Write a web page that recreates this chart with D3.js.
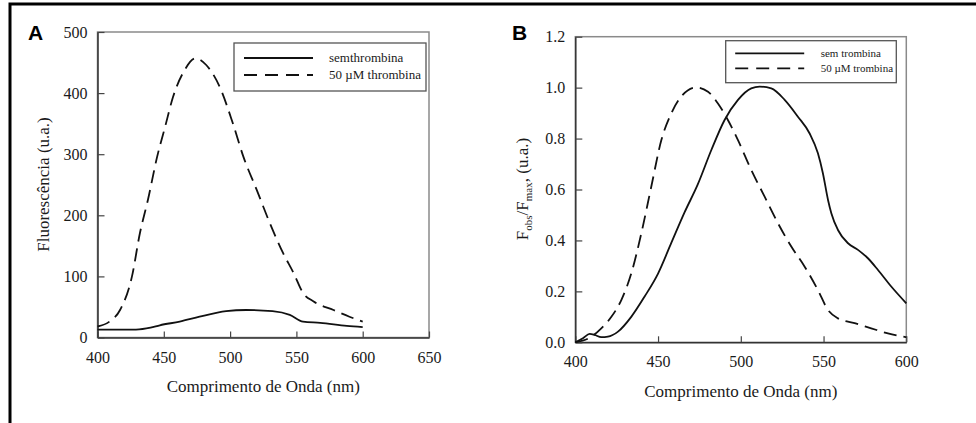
<!DOCTYPE html>
<html>
<head>
<meta charset="utf-8">
<script src="https://cdn.jsdelivr.net/npm/d3@7/dist/d3.min.js"></script>
<style>
  body { margin: 0; background: #fff; }
  svg { display: block; }
</style>
</head>
<body>
<script>
// painel A - fluorescencia absoluta
var semA_x = [400, 415, 429, 440, 447, 462, 477, 497, 512, 532, 545, 555, 568, 588, 600];
var semA_y = [13, 13, 13, 16, 20, 26, 34, 43, 45, 43, 37, 26, 24, 19, 17];
var comA_x = [400, 409, 417, 426, 432, 438, 445, 451, 457, 465, 474, 482, 492, 502, 510, 520, 530, 540, 548, 555, 563, 578, 590, 600];
var comA_y = [18, 26, 45, 100, 171, 225, 296, 345, 394, 435, 457, 446, 411, 351, 296, 242, 187, 138, 105, 73, 59, 45, 34, 26];

// painel B - normalizado
var semB_x = [400, 404.6, 408.7, 411.7, 415.7, 419.7, 425.8, 433.8, 441.9, 450, 458, 466, 474, 482.2, 490.2, 498.3, 506.3, 511.4, 518.4, 526.5, 534.5, 541.6, 546.6, 549.6, 552.7, 554.7, 558.7, 564.8, 570.8, 576.8, 582.9, 590.9, 600];
var semB_y = [0, 0.016, 0.033, 0.029, 0.02, 0.022, 0.042, 0.10, 0.18, 0.27, 0.39, 0.51, 0.62, 0.755, 0.873, 0.952, 0.997, 1.004, 0.997, 0.952, 0.886, 0.82, 0.742, 0.664, 0.559, 0.507, 0.441, 0.389, 0.363, 0.33, 0.284, 0.219, 0.153];
var comB_x = [400, 409.7, 415.7, 421.8, 427.8, 433.8, 439.9, 445.9, 452, 458, 464, 473.1, 480.2, 486.2, 492.2, 498.3, 506.3, 514.4, 522.5, 530.5, 538.6, 546.6, 552.7, 558.7, 568.8, 578.8, 588.9, 600];
var comB_y = [0, 0.022, 0.055, 0.10, 0.166, 0.27, 0.428, 0.611, 0.794, 0.899, 0.965, 1.001, 0.984, 0.938, 0.873, 0.794, 0.677, 0.572, 0.467, 0.376, 0.297, 0.205, 0.127, 0.094, 0.075, 0.055, 0.035, 0.02];

var legendA = ["semthrombina", "50 \u00b5M thrombina"];
var legendB = ["sem trombina", "50 \u00b5M trombina"];
var xTicksA = [400, 450, 500, 550, 600, 650];
var yTicksA = [0, 100, 200, 300, 400, 500];
var xTicksB = [400, 450, 500, 550, 600];
var yTicksB = [0, 0.2, 0.4, 0.6, 0.8, 1.0, 1.2];

var W = 976, H = 423;
var serif = "Liberation Serif, Times New Roman, serif";

var svg = d3.select("body").append("svg")
    .attr("width", W)
    .attr("height", H);

// moldura da figura
svg.append("rect")
   .attr("x", 10).attr("y", 4)
   .attr("width", 1200).attr("height", 1000)
   .attr("fill", "none")
   .attr("stroke", "#000")
   .attr("stroke-width", 3);

function zip(xs, ys) {
  return xs.map(function(d, i) { return [d, ys[i]]; });
}

function panel(opt) {
  var x = d3.scaleLinear().domain(opt.xdom).range([opt.left, opt.right]);
  var y = d3.scaleLinear().domain(opt.ydom).range([opt.bottom, opt.top]);

  var g = svg.append("g");

  // frame (top/right grey)
  g.append("rect")
   .attr("x", opt.left).attr("y", opt.top)
   .attr("width", opt.right - opt.left).attr("height", opt.bottom - opt.top)
   .attr("fill", "none")
   .attr("stroke", "#8a8a8a")
   .attr("stroke-width", 1.5);

  var xa = g.append("g")
    .attr("transform", "translate(0," + opt.bottom + ")")
    .call(d3.axisBottom(x).tickValues(opt.xticks).tickSizeInner(-6).tickSizeOuter(0).tickPadding(opt.xpad).tickFormat(d3.format("d")));
  var ya = g.append("g")
    .attr("transform", "translate(" + opt.left + ",0)")
    .call(d3.axisLeft(y).tickValues(opt.yticks).tickSizeInner(-7).tickSizeOuter(0).tickPadding(10).tickFormat(opt.yfmt));

  [xa, ya].forEach(function(a) {
    a.attr("font-family", serif).attr("font-size", 16);
    a.select(".domain").attr("stroke", "#333").attr("stroke-width", 1.5);
    a.selectAll(".tick line").attr("stroke", "#444").attr("stroke-width", 1.2);
    a.selectAll(".tick text")
     .attr("font-family", serif)
     .attr("font-size", "16px")
     .attr("fill", "#1a1a1a");
  });

  var line = d3.line()
    .x(function(d) { return x(d[0]); })
    .y(function(d) { return y(d[1]); })
    .curve(d3.curveMonotoneX);

  g.append("path")
   .datum(zip(opt.semx, opt.semy))
   .attr("d", line)
   .attr("fill", "none")
   .attr("stroke", "#111")
   .attr("stroke-width", 1.8);

  g.append("path")
   .datum(zip(opt.comx, opt.comy))
   .attr("d", line)
   .attr("fill", "none")
   .attr("stroke", "#111")
   .attr("stroke-width", 1.8)
   .attr("stroke-dasharray", "13,7");

  // letra do painel
  svg.append("text")
     .attr("x", opt.letterX).attr("y", opt.letterY)
     .attr("font-family", "Liberation Sans, Arial, sans-serif")
     .attr("font-weight", "bold")
     .attr("font-size", "21px")
     .text(opt.letter);

  // x label
  svg.append("text")
     .attr("x", (opt.left + opt.right) / 2)
     .attr("y", opt.xlabY)
     .attr("text-anchor", "middle")
     .attr("font-family", serif)
     .attr("font-size", "17px")
     .attr("fill", "#1a1a1a")
     .text("Comprimento de Onda (nm)");

  // legenda
  var L = opt.leg;
  svg.append("rect")
     .attr("x", L.x).attr("y", L.y).attr("width", L.w).attr("height", L.h)
     .attr("fill", "#fff")
     .attr("stroke", "#555")
     .attr("stroke-width", 1.3);
  opt.legText.forEach(function(t, i) {
    var yy = L.y + L.row0 + i * L.dy;
    svg.append("line")
       .attr("x1", L.x + L.l0).attr("x2", L.x + L.l1)
       .attr("y1", yy).attr("y2", yy)
       .attr("stroke", "#111")
       .attr("stroke-width", 1.8)
       .attr("stroke-dasharray", i == 1 ? "13,8" : null);
    svg.append("text")
       .attr("x", L.x + L.tx).attr("y", yy + 4)
       .attr("font-family", serif)
       .attr("font-size", L.fs)
       .attr("fill", "#1a1a1a")
       .text(t);
  });
  return g;
}

panel({
  xdom: [400, 650], ydom: [0, 500],
  left: 97.5, right: 429, top: 32, bottom: 337.5,
  xticks: xTicksA, yticks: yTicksA, yfmt: d3.format("d"), xpad: 14,
  semx: semA_x, semy: semA_y, comx: comA_x, comy: comA_y,
  letter: "A", letterX: 28, letterY: 40, xlabY: 392,
  leg: { x: 234, y: 43, w: 192, h: 48, row0: 15, dy: 17, l0: 10, l1: 79, tx: 95, fs: "13px" },
  legText: legendA
});

panel({
  xdom: [400, 600], ydom: [0, 1.2],
  left: 575.3, right: 906.3, top: 36.7, bottom: 342.3,
  xticks: xTicksB, yticks: yTicksB, yfmt: d3.format(".1f"), xpad: 13,
  semx: semB_x, semy: semB_y, comx: comB_x, comy: comB_y,
  letter: "B", letterX: 512, letterY: 40, xlabY: 397,
  leg: { x: 725.7, y: 40.7, w: 170.6, h: 42, row0: 12.6, dy: 15, l0: 9.5, l1: 78.5, tx: 95, fs: "11px" },
  legText: legendB
});

// y labels
svg.append("text")
   .attr("transform", "translate(49," + 184.5 + ") rotate(-90)")
   .attr("text-anchor", "middle")
   .attr("font-family", serif)
   .attr("font-size", "17px")
   .attr("fill", "#1a1a1a")
   .text("Fluorescência (u.a.)");

var yb = svg.append("text")
   .attr("transform", "translate(528," + 189 + ") rotate(-90)")
   .attr("text-anchor", "middle")
   .attr("font-family", serif)
   .attr("font-size", "17px")
   .attr("fill", "#1a1a1a");
yb.append("tspan").text("F");
yb.append("tspan").attr("font-size", "11px").attr("dy", 4).text("obs");
yb.append("tspan").attr("dy", -4).text("/F");
yb.append("tspan").attr("font-size", "11px").attr("dy", 4).text("max");
yb.append("tspan").attr("dy", -4).text(", (u.a.)");
</script>
</body>
</html>
